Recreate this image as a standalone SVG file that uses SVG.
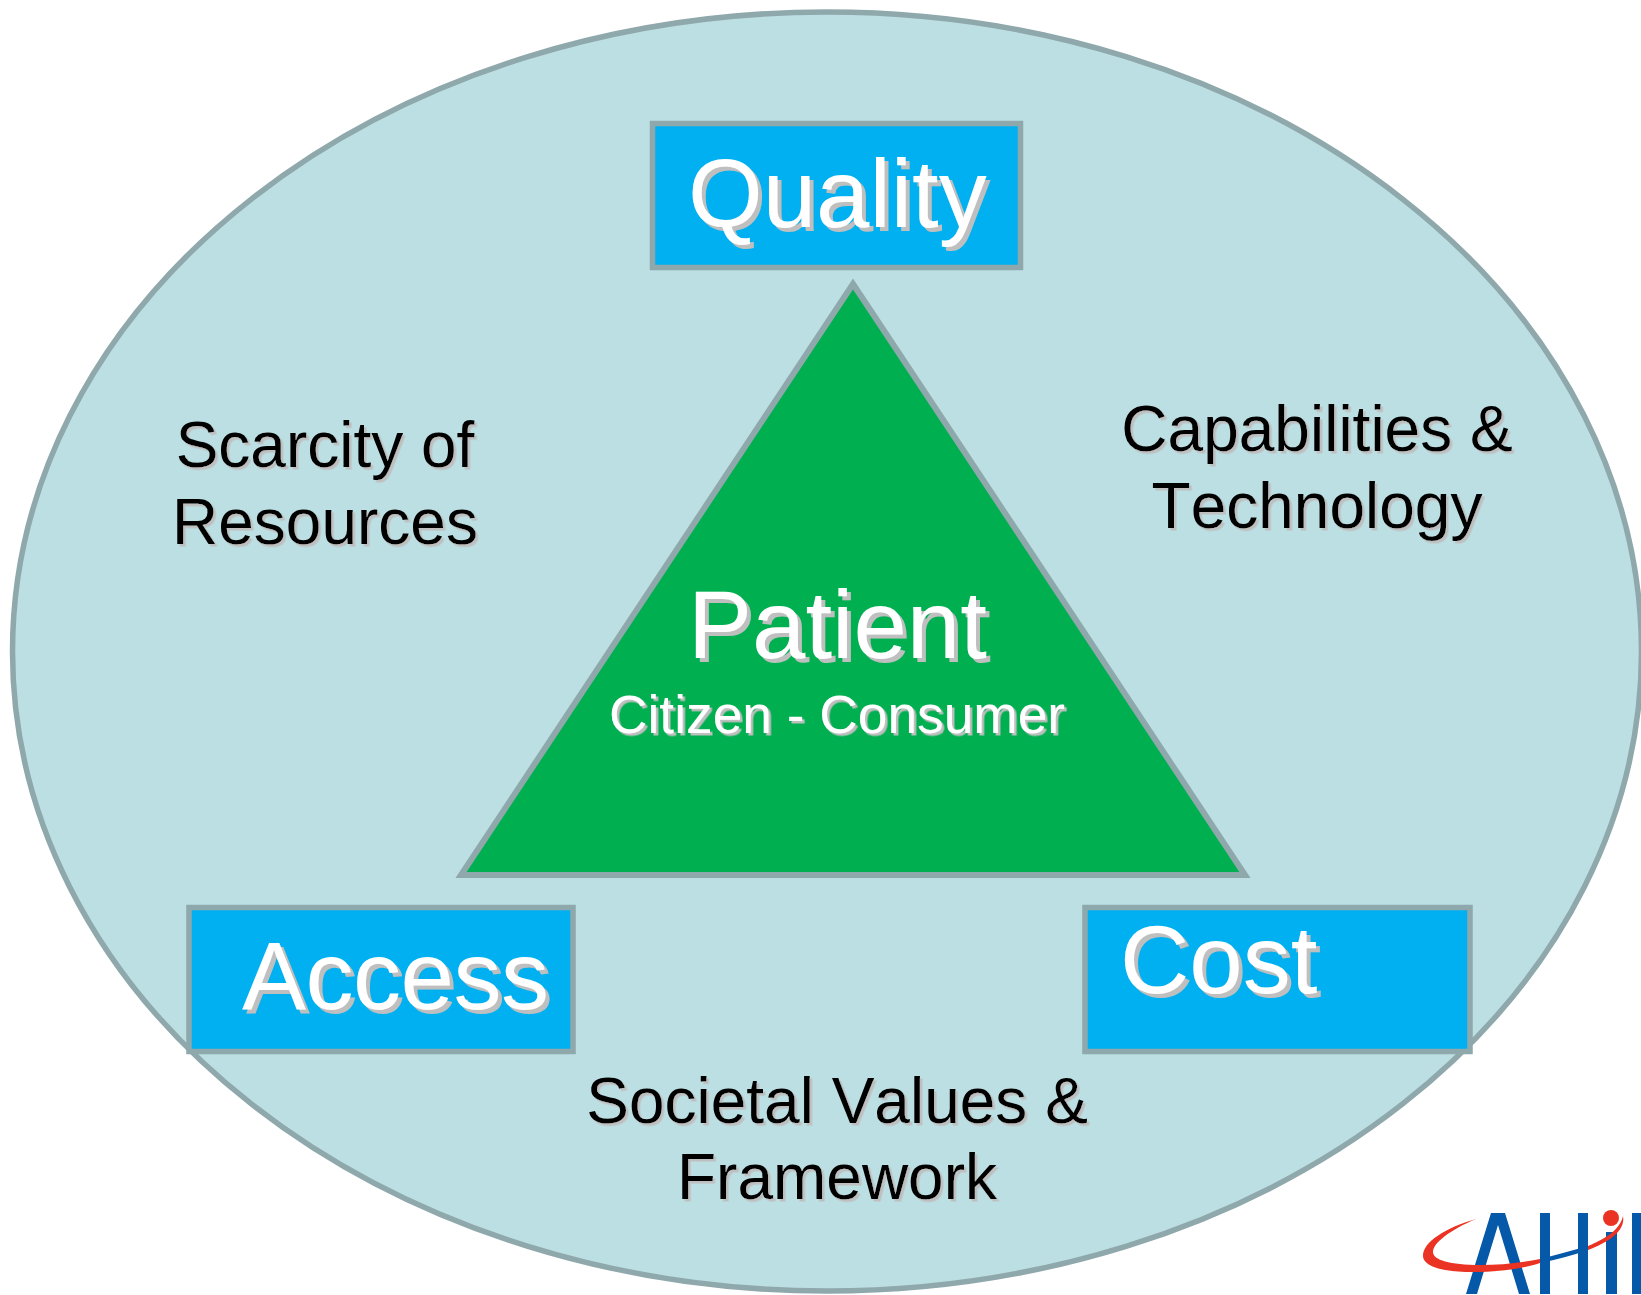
<svg xmlns="http://www.w3.org/2000/svg" width="1641" height="1295" viewBox="0 0 1641 1295">
<defs>
<filter id="shL" x="-5%" y="-5%" width="110%" height="115%"><feDropShadow dx="4" dy="4" stdDeviation="0" flood-color="#BFBFBF"/></filter>
<filter id="shS" x="-5%" y="-5%" width="110%" height="115%"><feDropShadow dx="2.5" dy="2.5" stdDeviation="0" flood-color="#BFBFBF"/></filter>
</defs>
<style>
text{font-family:"Liberation Sans",Arial,sans-serif;font-kerning:none}
.box{fill:#00B0F0;stroke:#8FA8AC;stroke-width:5.5}
.big{font-size:96px;fill:#fff;filter:url(#shL)}
.sub{font-size:53.3px;fill:#fff;filter:url(#shS)}
.lab{font-size:64px;fill:#000;text-anchor:middle;filter:url(#shS)}
.blue{fill:#0559A8}.red{fill:#EA3323}
</style>
<rect width="1641" height="1295" fill="#fff"/>
<g id="context"><ellipse cx="827" cy="651.5" rx="814.5" ry="639.5" fill="#BBDFE3" stroke="#8FA8AC" stroke-width="5.5"/></g>
<g id="connectors"/>
<g id="patient">
<polygon points="853,284 1245,875 461,875" fill="#00AF50" stroke="#8FA8AC" stroke-width="6"/>
<text class="big" x="688" y="658">Patient</text>
<text class="sub" x="609" y="733">Citizen - Consumer</text>
</g>
<g id="quality"><rect class="box" x="652.5" y="123.5" width="368" height="144"/><text class="big" x="688" y="227">Quality</text></g>
<g id="access"><rect class="box" x="189" y="907.5" width="384" height="144"/><text class="big" x="242" y="1009" textLength="307">Access</text></g>
<g id="cost"><rect class="box" x="1085" y="907.5" width="385" height="144"/><text class="big" x="1120" y="993">Cost</text></g>
<g id="scarcity"><text class="lab" x="325" y="467">Scarcity of</text><text class="lab" x="325" y="544">Resources</text></g>
<g id="capabilities"><text class="lab" x="1317" y="451">Capabilities &amp;</text><text class="lab" x="1317" y="528">Technology</text></g>
<g id="societal"><text class="lab" x="837" y="1123">Societal Values &amp;</text><text class="lab" x="837" y="1199">Framework</text></g>
<g id="logo">
<path class="blue" d="M1466,1294 L1491,1213 L1505,1213 L1530,1294 L1519,1294 L1498,1225 L1477,1294 Z"/>
<rect class="blue" x="1540" y="1213" width="10" height="81"/>
<rect class="blue" x="1578" y="1213" width="10" height="81"/>
<rect class="blue" x="1606" y="1232" width="11" height="62"/>
<rect class="blue" x="1632" y="1213" width="9" height="81"/>
<path class="blue" d="M1540,1259 Q1560,1254 1588,1246 L1588,1250 Q1565,1258 1540,1263 Z"/>
<path class="red" d="M1476,1219 C1445,1228 1423,1242 1423,1256 C1423,1268 1450,1273 1480,1272 C1505,1271 1525,1268 1540,1263 L1540,1259 C1520,1263 1500,1265 1480,1265 C1450,1265 1433,1260 1433,1252 C1433,1243 1450,1230 1476,1219 Z"/>
<path class="red" d="M1588,1246 C1605,1239 1620,1230 1623,1216 C1626,1232 1606,1243 1588,1250 Z"/>
<circle class="red" cx="1611" cy="1218" r="8"/>
</g>
</svg>
